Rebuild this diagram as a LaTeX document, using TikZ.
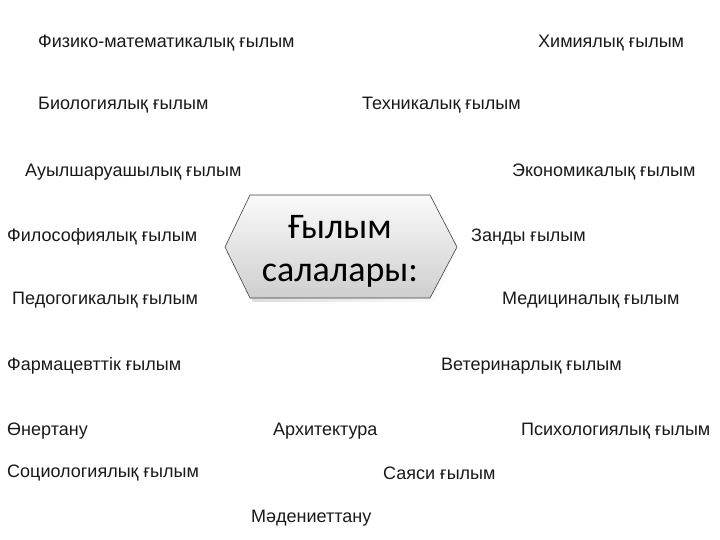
\documentclass[tikz,border=0pt]{standalone}
\usepackage{fontspec}
\setmainfont{Liberation Sans}
\newfontfamily\hexfont{Carlito}
\usetikzlibrary{shadows,fadings}
\begin{document}
\begin{tikzpicture}[x=1pt,y=-1pt,
  lbl/.style={anchor=west,inner sep=0pt,font=\fontsize{18}{20}\selectfont,text=black!90}]
\useasboundingbox (0,0) rectangle (720,540);
% central hexagon
\path[fill=black!25,opacity=0.6,path fading=east] (228,251) -- (253,199) -- (434,199) -- (461,251) -- (434,302) -- (253,302) -- cycle;
\draw[draw=black!75,line width=0.6pt,top color=gray!4,bottom color=gray!38]
  (225,247) -- (250,195) -- (430,195) -- (457,247) -- (430,298) -- (250,298) -- cycle;
\node[align=center,inner sep=0pt,font=\hexfont\fontsize{36}{43}\selectfont] (hex) at (340,251) {Ғылым\\салалары:};
% labels
\node[lbl] (n1) at (38,43) {Физико-математикалық ғылым};
\node[lbl] (n2) at (538,43) {Химиялық ғылым};
\node[lbl] (n3) at (38,105) {Биологиялық ғылым};
\node[lbl] (n4) at (362,105) {Техникалық ғылым};
\node[lbl] (n5) at (25,172) {Ауылшаруашылық ғылым};
\node[lbl] (n6) at (512,172) {Экономикалық ғылым};
\node[lbl] (n7) at (7,237) {Философиялық ғылым};
\node[lbl] (n8) at (471,237) {Занды ғылым};
\node[lbl] (n9) at (12,300) {Педогогикалық ғылым};
\node[lbl] (n10) at (502,300) {Медициналық ғылым};
\node[lbl] (n11) at (7,366) {Фармацевттік ғылым};
\node[lbl] (n12) at (441,366) {Ветеринарлық ғылым};
\node[lbl] (n13) at (7,431) {Өнертану};
\node[lbl] (n14) at (273,431) {Архитектура};
\node[lbl] (n15) at (521,431) {Психологиялық ғылым};
\node[lbl] (n16) at (7,473) {Социологиялық ғылым};
\node[lbl] (n17) at (383,473) {Саяси ғылым};
\node[lbl] (n18) at (251,518) {Мәдениеттану};
\end{tikzpicture}
\end{document}
